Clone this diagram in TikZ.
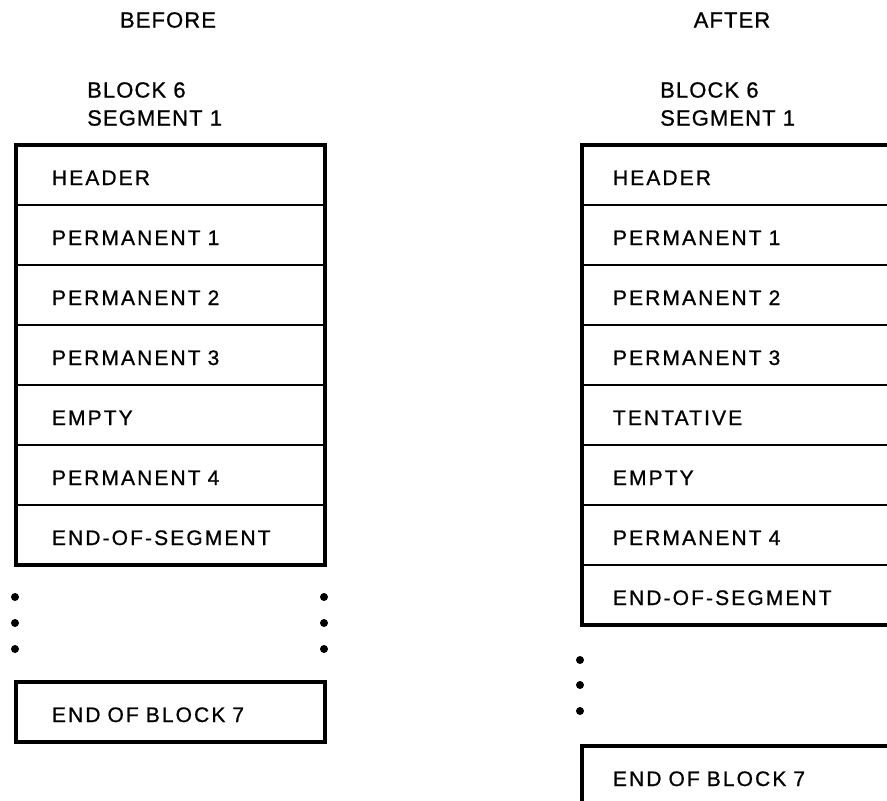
\documentclass[tikz,border=0pt]{standalone}
\usepackage{fontspec}
\setmainfont{Liberation Sans}[LetterSpace=10,FakeBold=0.8]
\usetikzlibrary{positioning}
\tikzset{
  cell/.style    = {draw, line width=1.6pt, outer sep=0pt, inner ysep=0pt,
                    inner xsep=36pt, text width=237pt, align=left,
                    minimum width=309pt, minimum height=60pt,
                    text height=20pt, text depth=0pt,
                    font=\fontsize{21}{24}\selectfont},
  rcell/.style   = {cell, inner xsep=31pt, text width=247pt},
  outline/.style = {line width=3.5pt},
  dot/.style     = {circle, fill=black, inner sep=0pt, minimum size=8pt},
  heading/.style = {align=left, inner sep=0pt,
                    font=\fontsize{22}{28}\selectfont\addfontfeature{LetterSpace=5}},
}
\begin{document}
\begin{tikzpicture}[x=1pt,y=-1pt,node distance=0pt]
  \clip (0,0) rectangle (887,801);
  % before
  \node[heading] (before) at (168,20) {BEFORE};
  \node[heading,anchor=west] (bblock) at (87,104) {BLOCK 6\\SEGMENT 1};
  \node[cell] (bhead) at (170.5,175) {HEADER};
  \node[cell,below=of bhead] (bperm1) {PERMANENT 1};
  \node[cell,below=of bperm1] (bperm2) {PERMANENT 2};
  \node[cell,below=of bperm2] (bperm3) {PERMANENT 3};
  \node[cell,below=of bperm3] (bempty) {EMPTY};
  \node[cell,below=of bempty] (bperm4) {PERMANENT 4};
  \node[cell,below=of bperm4] (beos) {END-OF-SEGMENT};
  \draw[outline] (bhead.north west) rectangle (beos.south east);
  \foreach \y [count=\i] in {597,623,649} {
    \node[dot] (bldot\i) at (15,\y) {};
    \node[dot] (brdot\i) at (324,\y) {};
  }
  \node[cell,outline] (bend) at (170.5,712) {END OF BLOCK 7};
  % after
  \node[heading] (after) at (732,20) {AFTER};
  \node[heading,anchor=west] (ablock) at (660,104) {BLOCK 6\\SEGMENT 1};
  \node[rcell] (ahead) at (736.5,175) {HEADER};
  \node[rcell,below=of ahead] (aperm1) {PERMANENT 1};
  \node[rcell,below=of aperm1] (aperm2) {PERMANENT 2};
  \node[rcell,below=of aperm2] (aperm3) {PERMANENT 3};
  \node[rcell,below=of aperm3] (atent) {TENTATIVE};
  \node[rcell,below=of atent] (aempty) {EMPTY};
  \node[rcell,below=of aempty] (aperm4) {PERMANENT 4};
  \node[rcell,below=of aperm4] (aeos) {END-OF-SEGMENT};
  \draw[outline] (ahead.north west) rectangle (aeos.south east);
  \foreach \y [count=\i] in {660,685,711}
    \node[dot] (adot\i) at (580,\y) {};
  \node[rcell,outline] (aend) at (736.5,776) {END OF BLOCK 7};
\end{tikzpicture}
\end{document}
